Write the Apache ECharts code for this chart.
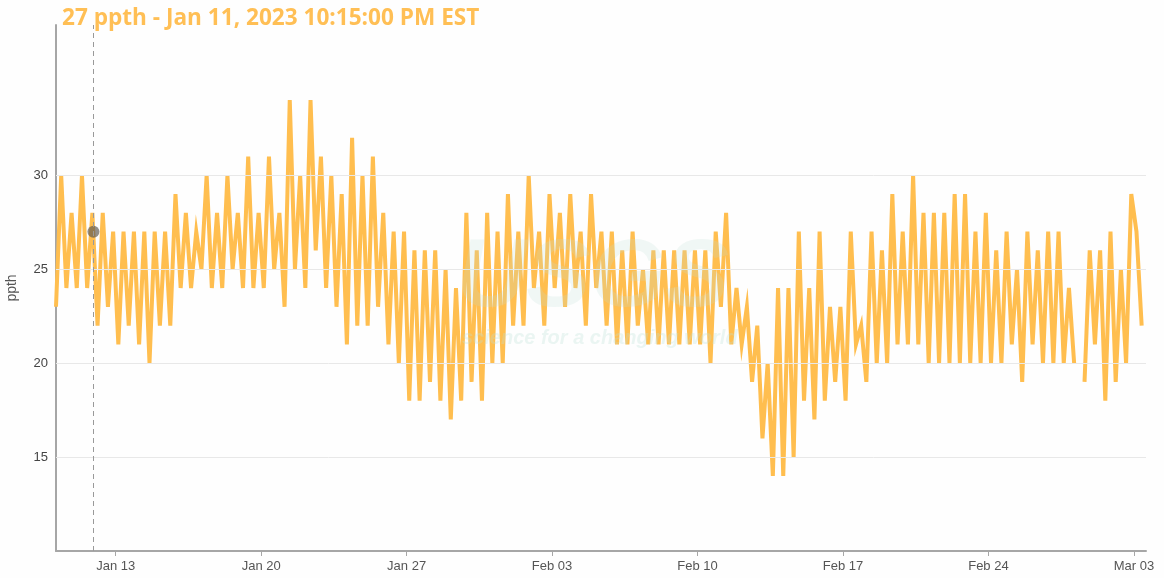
<!DOCTYPE html>
<html>
<head>
<meta charset="utf-8">
<script src="https://cdn.jsdelivr.net/npm/echarts@6/dist/echarts.min.js"></script>
<style>
  html, body { margin: 0; padding: 0; background: #fefefe; }
  #chart { width: 1164px; height: 578px; }
</style>
</head>
<body>
<div id="chart"></div>
<script>
// 标题（悬停点的读数）
var titleText = '27 ppth - Jan 11, 2023 10:15:00 PM EST'
// 数据起点和采样间隔
var startTime = Date.UTC(2023, 0, 10, 3, 0)
var stepHours = 6
// 盐度 ppth，每6小时一个读数，null 为缺测
var salinity = [
  23, 30, 24, 28, 24, 30, 24, 28, 22, 28,
  23, 27, 21, 27, 22, 27, 21, 27, 20, 27,
  22, 27, 22, 29, 24, 28, 24, 27, 25, 30,
  24, 28, 24, 30, 25, 28, 24, 31, 24, 28,
  24, 31, 25, 28, 23, 34, 25, 30, 24, 34,
  26, 31, 24, 30,
  23, 29, 21, 32, 22, 30, 22, 31, 23, 28,
  21, 27, 20, 27, 18, 26, 18, 26, 19, 26,
  18, 25, 17, 24, 18, 28, 19, 26, 18, 28,
  20, 27, 20, 29, 22, 27, 22, 30, 24, 27,
  22, 29, 24, 28, 23, 29, 24, 27, 22, 29,
  24, 27, 22, 27, 21, 26, 21, 27, 22,
  25, 21, 26, 21, 26, 21, 26, 21, 26, 21,
  26, 21, 26, 20, 27, 23, 28, 21, 24, 21,
  23, 19, 22, 16, 20, 14, 24, 14, 24, 15,
  27, 18, 24, 17, 27, 18, 23, 19, 23, 18,
  27, 21, 22, 19, 27, 20,
  26, 20, 29, 21, 27, 21, 30, 21, 28, 20,
  28, 20, 28, 20, 29, 20, 29, 20, 27, 20,
  28, 20, 26, 20, 27, 21, 25, 19, 27, 21,
  26, 20, 27, 20, 27, 20, 24, 20, null, 19,
  26, 21, 26, 18, 27, 19, 25, 20, 29, 27, 22
]
// x轴刻度
var xTickDates = [
  Date.UTC(2023, 0, 13), Date.UTC(2023, 0, 20), Date.UTC(2023, 0, 27), Date.UTC(2023, 1, 3),
  Date.UTC(2023, 1, 10), Date.UTC(2023, 1, 17), Date.UTC(2023, 1, 24), Date.UTC(2023, 2, 3)
]
var xTickLabels = ['Jan 13', 'Jan 20', 'Jan 27', 'Feb 03', 'Feb 10', 'Feb 17', 'Feb 24', 'Mar 03']
// y轴刻度
var yTickValues = [15, 20, 25, 30]
// 悬停点
var hoverTime = Date.UTC(2023, 0, 11, 22, 15)
var hoverValue = 27

var axisMin = Date.UTC(2023, 0, 10, 3, 0)
var axisMax = Date.UTC(2023, 2, 3, 14, 0)

var lineData = salinity.map(function (v, i) {
  return [startTime + i * stepHours * 3600 * 1000, v]
})

var chart = echarts.init(document.getElementById('chart'))
chart.setOption({
  backgroundColor: '#fefefe',
  animation: false,
  title: {
    text: titleText,
    left: 57,
    top: 2,
    textStyle: {
      color: '#FFBF55',
      fontSize: 22.6,
      fontWeight: 'bold',
      fontFamily: 'Open Sans'
    }
  },
  grid: {
    left: 56,
    right: 18,
    top: 25,
    bottom: 27,
    containLabel: false,
    outerBoundsMode: 'none'
  },
  xAxis: {
    type: 'value',
    min: axisMin,
    max: axisMax,
    axisLine: { show: true, lineStyle: { color: '#a6a6a6', width: 2 } },
    axisTick: {
      show: true,
      customValues: xTickDates,
      length: 5,
      lineStyle: { color: '#a6a6a6', width: 1 }
    },
    axisLabel: {
      customValues: xTickDates,
      color: '#555',
      fontSize: 13,
      fontFamily: 'Liberation Sans',
      margin: 9,
      formatter: function (val) {
        var idx = xTickDates.indexOf(val)
        return idx >= 0 ? xTickLabels[idx] : ''
      }
    },
    splitLine: { show: false }
  },
  yAxis: {
    type: 'value',
    min: 10,
    max: 38,
    interval: 5,
    name: 'ppth',
    nameLocation: 'middle',
    nameGap: 37,
    nameTextStyle: { color: '#555', fontSize: 14, fontFamily: 'Liberation Sans' },
    axisLine: { show: true, lineStyle: { color: '#a6a6a6', width: 2 } },
    axisTick: { show: false },
    axisLabel: {
      color: '#444',
      fontSize: 13,
      fontFamily: 'Liberation Sans',
      margin: 8,
      showMaxLabel: false,
      formatter: function (val) {
        return yTickValues.indexOf(val) >= 0 ? String(val) : ''
      }
    },
    splitLine: { show: false }
  },
  graphic: [
    {
      type: 'text',
      left: 457,
      top: 232,
      z: 100,
      silent: true,
      style: {
        text: 'USGS',
        fontSize: 96,
        fontWeight: 'bold',
        fontStyle: 'italic',
        fontFamily: 'Liberation Sans',
        fill: 'rgba(190, 225, 215, 0.22)'
      }
    },
    {
      type: 'text',
      left: 462,
      top: 328,
      z: 100,
      silent: true,
      style: {
        text: 'science for a changing world',
        fontSize: 20,
        fontWeight: 'bold',
        fontStyle: 'italic',
        fontFamily: 'Liberation Sans',
        fill: 'rgba(190, 225, 215, 0.3)'
      }
    }
  ],
  series: [
    {
      // 网格线
      type: 'line',
      data: [],
      z: 1,
      silent: true,
      markLine: {
        silent: true,
        symbol: 'none',
        label: { show: false },
        lineStyle: { color: '#e8e8e8', type: 'solid', width: 1 },
        data: yTickValues.map(function (v) { return { yAxis: v } })
      }
    },
    {
      name: 'ppth',
      type: 'line',
      data: lineData,
      z: 2,
      showSymbol: false,
      connectNulls: false,
      lineStyle: { color: '#FFBE4F', width: 4, join: 'miter' },
      itemStyle: { color: '#FFBE4F' },
      markLine: {
        silent: true,
        symbol: 'none',
        label: { show: false },
        lineStyle: { color: '#999', type: [5, 4], width: 1 },
        data: [{ xAxis: hoverTime }]
      }
    },
    {
      type: 'scatter',
      data: [[hoverTime, hoverValue]],
      z: 3,
      symbolSize: 12,
      itemStyle: { color: 'rgba(95, 90, 80, 0.85)' }
    }
  ]
})
</script>
</body>
</html>
